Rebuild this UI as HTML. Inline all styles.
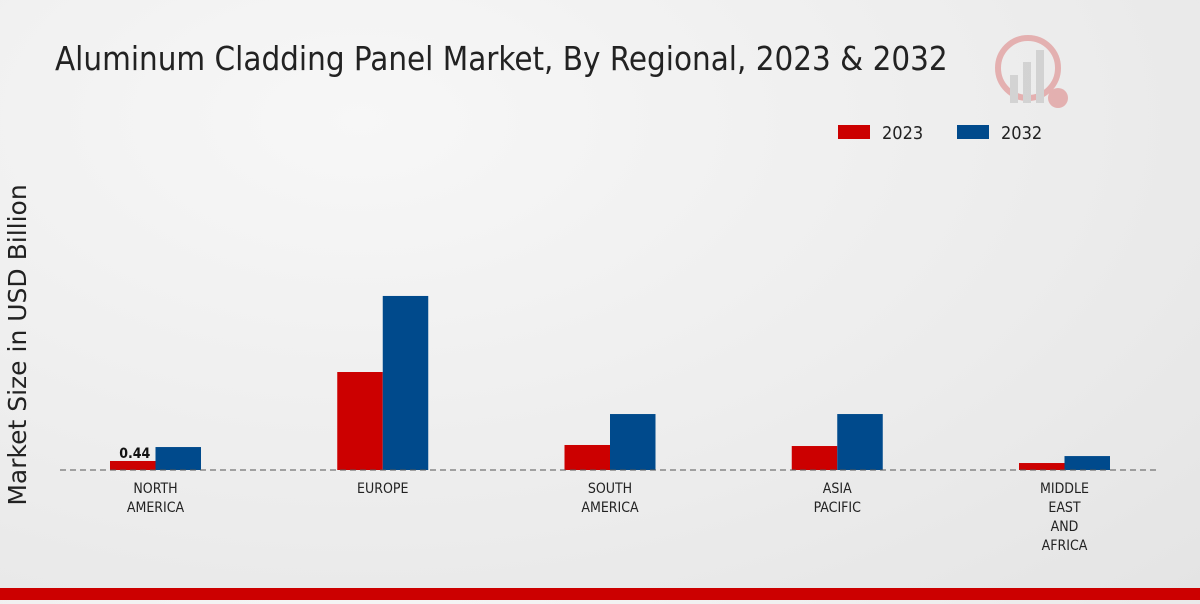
<!DOCTYPE html>
<html><head><meta charset="utf-8"><style>
html,body{margin:0;padding:0;}
body{width:1200px;height:600px;overflow:hidden;background:radial-gradient(ellipse at 30% 20%,#f7f7f7 0%,#ececec 60%,#e4e4e4 100%);font-family:"DejaVu Sans Condensed","Liberation Sans Narrow","Liberation Sans",sans-serif;}
svg text{font-family:"DejaVu Sans Condensed","Liberation Sans Narrow","Liberation Sans",sans-serif;}
</style></head><body>
<svg width="1200" height="600">
<text x="55" y="70" font-size="32.8" fill="#222">Aluminum Cladding Panel Market, By Regional, 2023 &amp; 2032</text>
<g opacity="0.25">
<circle cx="1028" cy="68" r="30" fill="none" stroke="#c00" stroke-width="6"/>
<rect x="1010" y="75" width="8" height="28" fill="#888"/><rect x="1023" y="62" width="8" height="41" fill="#888"/><rect x="1036" y="50" width="8" height="53" fill="#888"/>
<circle cx="1058" cy="98" r="10" fill="#c00"/>
</g>
<g>
<rect x="838" y="125" width="32" height="14" fill="#cc0000"/>
<text x="882" y="139" font-size="18" fill="#222">2023</text>
<rect x="957" y="125" width="32" height="14" fill="#004a8c"/>
<text x="1001" y="139" font-size="18" fill="#222">2032</text>
</g>
<text transform="translate(26,345) rotate(-90)" text-anchor="middle" font-size="25" fill="#222" style="font-family:'DejaVu Sans',sans-serif">Market Size in USD Billion</text>
<g id="plot"></g>
<line x1="60" y1="470" x2="1160" y2="470" stroke="#555" stroke-dasharray="6,4"/>
<rect x="0" y="588" width="1200" height="12" fill="#cc0000"/>
</svg>
<script>
const categories=[["NORTH","AMERICA"],["EUROPE"],["SOUTH","AMERICA"],["ASIA","PACIFIC"],["MIDDLE","EAST","AND","AFRICA"]];
const values2023=[0.44,4.78,1.22,1.17,0.34];
const values2032=[1.12,8.49,2.73,2.73,0.68];
const valueLabels=["0.44",null,null,null,null];
const ns="http://www.w3.org/2000/svg";
const g=document.getElementById("plot");
const base=470,pxPer=20.5,bw=45.5;
const x=i=>155.5+i*227.25;
const y=v=>base-v*pxPer;
function mk(t,a){const e=document.createElementNS(ns,t);for(const k in a)e.setAttribute(k,a[k]);g.appendChild(e);return e;}
categories.forEach((c,i)=>{
 const r=mk("rect",{x:x(i)-bw,y:y(values2023[i]),width:bw,height:base-y(values2023[i]),fill:"#cc0000"});
 
 
 const b=mk("rect",{x:x(i),y:y(values2032[i]),width:bw,height:base-y(values2032[i]),fill:"#004a8c"});
 
 
 c.forEach((ln,j)=>{const t=mk("text",{x:x(i),y:493+j*19,"text-anchor":"middle","font-size":"14",fill:"#222"});t.textContent=ln;
 
 });
 if(valueLabels[i]){const t=mk("text",{x:x(i)-bw/2+2,y:y(values2023[i])-3,"text-anchor":"middle","font-size":"14","font-weight":"bold",fill:"#111"});t.textContent=valueLabels[i];
 
 }
});
</script>
</body></html>
